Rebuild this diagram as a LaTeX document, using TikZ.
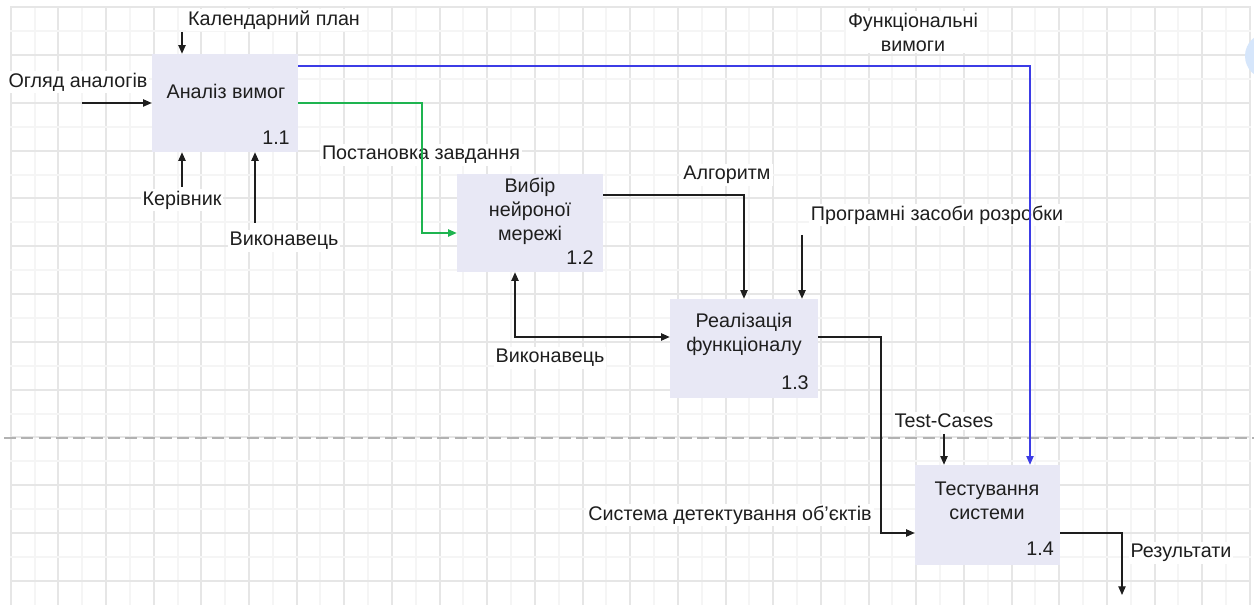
\documentclass[tikz,border=0pt]{standalone}
\usepackage{fontspec}
\setmainfont{Liberation Sans}
\usetikzlibrary{arrows.meta,fit}

\definecolor{gridminor}{RGB}{245,245,245}
\definecolor{gridmajor}{RGB}{230,230,230}
\definecolor{boxfill}{RGB}{232,232,245}
\definecolor{ink}{RGB}{30,30,30}
\definecolor{flowblue}{RGB}{60,60,230}
\definecolor{flowgreen}{RGB}{30,180,80}
\definecolor{bubble}{RGB}{214,230,251}

\tikzset{
  proc/.style={fill=boxfill, draw=none, inner sep=0pt},
  lbl/.style={fill=white, inner sep=1.5pt, text=ink, align=center,
              font=\fontsize{14.8}{18}\selectfont},
  intext/.style={inner sep=0pt, text=ink, align=center,
              font=\fontsize{14.8}{18}\selectfont},
  flow/.style={draw=ink, line width=0.9pt,
               -{Triangle[length=6.5pt,width=5.5pt]}},
  bothflow/.style={draw=ink, line width=0.9pt,
               {Triangle[length=6.5pt,width=5.5pt]}-{Triangle[length=6.5pt,width=5.5pt]}},
  bluflow/.style={draw=flowblue, line width=0.8pt,
               -{Triangle[length=6.5pt,width=5.5pt]}},
  grnflow/.style={draw=flowgreen, line width=0.9pt,
               -{Triangle[length=6.5pt,width=5.5pt]}},
  gridln/.style={line width=1.2pt},
}

\begin{document}
\begin{tikzpicture}[x=0.75pt,y=-0.75pt]
\useasboundingbox (0,0) rectangle (1254,605);
\fill[white] (0,0) rectangle (1254,605);

% background grid: light minor lines, darker every second line
\foreach \i in {0,...,52}{
  \pgfmathsetmacro\gx{round(10.7+23.83*\i)}
  \ifodd\i
    \draw[gridln, gridminor] (\gx,7) -- (\gx,605);
  \else
    \draw[gridln, gridmajor] (\gx,7) -- (\gx,605);
  \fi
}
\foreach \j in {0,...,24}{
  \pgfmathsetmacro\gy{round(7.3+23.9*\j)}
  \ifodd\j
    \draw[gridln, gridminor] (10,\gy) -- (1251,\gy);
  \else
    \draw[gridln, gridmajor] (10,\gy) -- (1251,\gy);
  \fi
}

% page separator
\draw[gray!60, line width=0.8pt, dash pattern=on 9pt off 4pt] (4,438) -- (1254,438);

% round control at the right edge
\begin{scope}
  \clip (0,0) rectangle (1254,605);
  \fill[bubble] (1268,56) circle (23);
\end{scope}

% activity boxes
\node[proc, fit={(152,54) (298,152)}] (a11) {};
\node[proc, fit={(457,174) (603,272)}] (a12) {};
\node[proc, fit={(670,299) (818,398)}] (a13) {};
\node[proc, fit={(915,465) (1060,565)}] (a14) {};

\node[intext] (t11) at (226,91) {Аналіз вимог};
\node[intext] (n11) at (276,138) {1.1};
\node[intext] (t12) at (530,211) {Вибір\\нейроної\\мережі};
\node[intext] (n12) at (580,258) {1.2};
\node[intext] (t13) at (744,334) {Реалізація\\функціоналу};
\node[intext] (n13) at (795,383) {1.3};
\node[intext] (t14) at (987,501) {Тестування\\системи};
\node[intext] (n14) at (1040,549) {1.4};

% labels of the arrows
\node[lbl] (lplan) at (274,20) {Календарний план};
\node[lbl] (lanal) at (78,82) {Огляд аналогів};
\node[lbl] (lboss) at (182,200) {Керівник};
\node[lbl] (lexec) at (284,241) {Виконавець};
\node[lbl] (lreq)  at (913,32) {Функціональні\\вимоги};
\node[lbl] (ltask) at (421,155) {Постановка завдання};
\node[lbl] (lalg)  at (727,175) {Алгоритм};
\node[lbl] (ltool) at (937,215) {Програмні засоби розробки};
\node[lbl] (lexec2) at (550,358) {Виконавець};
\node[lbl] (ltest) at (944,421) {Test-Cases};
\node[lbl] (ldet)  at (730,515) {Система детектування об'єктів};
\node[lbl] (lres)  at (1181,553) {Результати};

% free ends of the boundary arrows
\coordinate (cplan) at (182,32);
\coordinate (canal) at (82,103);
\coordinate (cboss) at (182,187);
\coordinate (cexec) at (255,223);
\coordinate (ctool) at (802,235);
\coordinate (ctest) at (944,434);
\coordinate (cres)  at (1122,595);

% arrows into and out of 1.1
\draw[flow] (cplan) -- (cplan |- a11.north);
\draw[flow] (canal) -- (a11.west |- canal);
\draw[flow] (cboss) -- (cboss |- a11.south);
\draw[flow] (cexec) -- (cexec |- a11.south);
\draw[grnflow] (a11.east |- 0,103) -- (422,103) -- (422,233) -- (a12.west |- 0,233);

% arrows between 1.2 and 1.3
\draw[flow] (a12.east |- 0,195) -- (744,195) -- (744,0 |- a13.north);
\draw[flow] (ctool) -- (ctool |- a13.north);
\draw[bothflow] (515,0 |- a12.south) -- (515,337) -- (a13.west |- 0,337);

% arrows into and out of 1.4
\draw[flow] (a13.east |- 0,337) -- (881,337) -- (881,533) -- (a14.west |- 0,533);
\draw[flow] (ctest) -- (ctest |- a14.north);
\draw[flow] (a14.east |- 0,533) -- (1122,533) -- (cres);

% requirements line runs over the label of the tools
\draw[bluflow] (a11.east |- 0,66) -- (1030,66) -- (1030,0 |- a14.north);
\end{tikzpicture}
\end{document}
